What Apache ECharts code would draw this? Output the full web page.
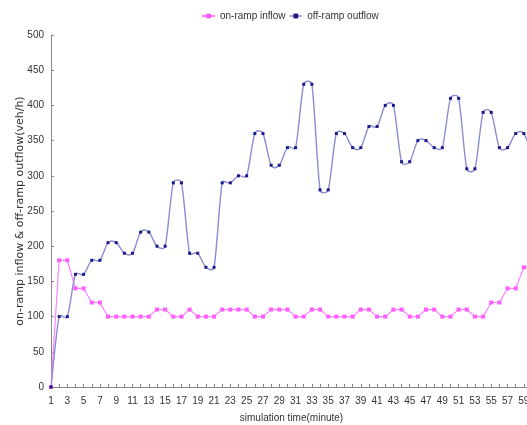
<!DOCTYPE html>
<html>
<head>
<meta charset="utf-8">
<script src="https://cdn.jsdelivr.net/npm/echarts@6/dist/echarts.min.js"></script>
<style>
  html, body { margin: 0; padding: 0; background: #ffffff; }
  #chart { width: 527px; height: 425px; }
</style>
</head>
<body>
<div id="chart"></div>
<script>
// Simulation minutes (the last one runs past the right edge)
const minutes = Array.from({ length: 60 }, (_, i) => String(i + 1));

// On-ramp inflow (veh/h)
const onRampInflow = [
  0, 180, 180, 140, 140, 120, 120, 100, 100, 100,
  100, 100, 100, 110, 110, 100, 100, 110, 100, 100,
  100, 110, 110, 110, 110, 100, 100, 110, 110, 110,
  100, 100, 110, 110, 100, 100, 100, 100, 110, 110,
  100, 100, 110, 110, 100, 100, 110, 110, 100, 100,
  110, 110, 100, 100, 120, 120, 140, 140, 170, 170
];

// Off-ramp outflow (veh/h)
const offRampOutflow = [
  0, 100, 100, 160, 160, 180, 180, 205, 205, 190,
  190, 220, 220, 200, 200, 290, 290, 190, 190, 170,
  170, 290, 290, 300, 300, 360, 360, 315, 315, 340,
  340, 430, 430, 280, 280, 360, 360, 340, 340, 370,
  370, 400, 400, 320, 320, 350, 350, 340, 340, 410,
  410, 310, 310, 390, 390, 340, 340, 360, 360, 330
];

const yMin = 0, yMax = 500, yStep = 50;

const textColor = '#333333';
const axisColor = '#888888';
const inflowLine = '#ff80ff';
const inflowMark = '#ff5cff';
const outflowLine = '#8c8cd0';
const outflowMark = '#1a1a8c';
const fontFamily = '"Liberation Sans", "DejaVu Sans", sans-serif';

// Builds a smoothed bezier path through the given pixel points.
// Tangents follow the neighbouring points (Catmull-Rom, 1/6 weight) and are
// capped at half the segment length, so short flat runs get only a small bump.
function smoothPath(pts) {
  const cap = (vx, vy, maxLen) => {
    const len = Math.hypot(vx, vy);
    if (len > maxLen && len > 0) {
      const k = maxLen / len;
      return [vx * k, vy * k];
    }
    return [vx, vy];
  };
  let d = 'M' + pts[0][0] + ' ' + pts[0][1];
  for (let i = 0; i < pts.length - 1; i++) {
    const p0 = pts[i - 1] || pts[i];
    const p1 = pts[i];
    const p2 = pts[i + 1];
    const p3 = pts[i + 2] || pts[i + 1];
    const seg = Math.hypot(p2[0] - p1[0], p2[1] - p1[1]);
    const t1 = cap((p2[0] - p0[0]) / 6, (p2[1] - p0[1]) / 6, seg / 2);
    const t2 = cap((p3[0] - p1[0]) / 6, (p3[1] - p1[1]) / 6, seg / 2);
    d += ' C' + (p1[0] + t1[0]) + ' ' + (p1[1] + t1[1]) + ' ' +
         (p2[0] - t2[0]) + ' ' + (p2[1] - t2[1]) + ' ' +
         p2[0] + ' ' + p2[1];
  }
  return d;
}

const chart = echarts.init(document.getElementById('chart'), null, { renderer: 'canvas' });

chart.setOption({
  backgroundColor: '#ffffff',
  animation: false,
  textStyle: { fontFamily: fontFamily, color: textColor },
  legend: {
    top: 6,
    left: 196,
    itemWidth: 13,
    itemHeight: 6,
    itemGap: 3,
    textStyle: { fontSize: 10, color: textColor, fontFamily: fontFamily },
    data: [
      { name: 'on-ramp inflow' },
      { name: 'off-ramp outflow', lineStyle: { color: outflowLine, width: 1.4, opacity: 1 } }
    ]
  },
  grid: { left: 51, right: -5, top: 35, bottom: 38, containLabel: false, outerBoundsMode: 'none' },
  xAxis: {
    type: 'category',
    data: minutes,
    boundaryGap: false,
    name: 'simulation time(minute)',
    nameLocation: 'middle',
    nameGap: 26,
    nameMoveOverlap: false,
    nameTextStyle: { fontSize: 10, color: textColor },
    axisLine: { lineStyle: { color: axisColor, width: 1 } },
    axisTick: { show: true, inside: true, length: 3, interval: 0, lineStyle: { color: axisColor } },
    axisLabel: { interval: 1, fontSize: 10, color: textColor, margin: 9 },
    splitLine: { show: false }
  },
  yAxis: {
    type: 'value',
    min: yMin,
    max: yMax,
    interval: yStep,
    name: 'on-ramp inflow & off-ramp outflow(veh/h)',
    nameLocation: 'middle',
    nameGap: 25,
    nameMoveOverlap: false,
    nameRotate: 90,
    nameTextStyle: { fontSize: 11, color: textColor, fontFamily: '"DejaVu Sans", sans-serif' },
    axisLine: { show: true, lineStyle: { color: axisColor, width: 1 } },
    axisTick: { show: true, inside: true, length: 3, lineStyle: { color: axisColor } },
    axisLabel: { fontSize: 10, color: textColor, margin: 7 },
    splitLine: { show: false }
  },
  series: [
    {
      name: 'on-ramp inflow',
      type: 'line',
      data: onRampInflow,
      symbol: 'rect',
      symbolSize: 4,
      itemStyle: { color: inflowMark },
      lineStyle: { color: inflowLine, width: 1.2 },
      z: 2
    },
    {
      // smoothed outflow curve drawn through the axis scales
      name: 'outflow curve',
      type: 'custom',
      data: [0],
      clip: true,
      silent: true,
      z: 3,
      renderItem: function (params, api) {
        const pts = offRampOutflow.map((v, i) => api.coord([i, v]));
        return {
          type: 'path',
          shape: { pathData: smoothPath(pts) },
          style: { fill: null, stroke: outflowLine, lineWidth: 1.4 }
        };
      }
    },
    {
      name: 'off-ramp outflow',
      type: 'line',
      data: offRampOutflow,
      symbol: 'rect',
      symbolSize: 3,
      itemStyle: { color: outflowMark },
      lineStyle: { color: outflowLine, width: 1.4, opacity: 0 },
      z: 4
    }
  ]
});
</script>
</body>
</html>
